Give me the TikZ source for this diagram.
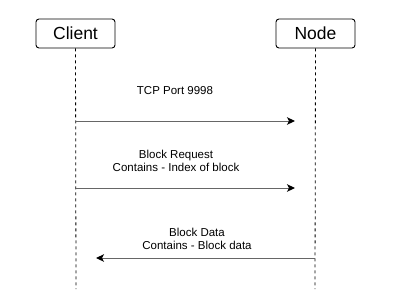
\documentclass[tikz,border=0pt]{standalone}
\usepackage{fontspec}
\setmainfont{Liberation Sans}
\usetikzlibrary{arrows.meta, positioning}

\begin{document}
\begin{tikzpicture}[x=1pt, y=-1pt,
  actor/.style={draw, rounded corners=3pt, line width=0.9pt,
    minimum width=79pt, minimum height=29pt, inner sep=0pt,
    font=\fontsize{17.5}{20}\selectfont},
  lifeline/.style={line width=0.8pt, dash pattern=on 3pt off 3pt},
  msg/.style={line width=1pt, draw=black!60,
    -{Stealth[length=8pt, width=7.5pt, inset=2pt, color=black]}},
  msglabel/.style={align=center, inner sep=0pt,
    font=\fontsize{11.5}{13.5}\selectfont}]

  \useasboundingbox (0,0) rectangle (414,290);

  % the two parties
  \node[actor] (client) at (75.5,33.5) {Client};
  \node[actor] (node) at (315.5,33.5) {Node};

  % lifelines
  \coordinate (client end) at (76,289);
  \coordinate (node end) at (315,289);
  \draw[lifeline] (client.south) -- (client end);
  \draw[lifeline] (node.south) -- (node end);

  % connection
  \coordinate (m1) at (76,121);
  \coordinate (m1 end) at (295,121);
  \draw[msg] (m1) -- (m1 end);
  \node[msglabel] (l1) at (175,91) {TCP Port 9998};

  % request
  \coordinate (m2) at (76,188);
  \coordinate (m2 end) at (295,188);
  \draw[msg] (m2) -- (m2 end);
  \node[msglabel] (l2) at (176,161) {Block Request\\Contains - Index of block};

  % reply
  \coordinate (m3) at (315,258);
  \coordinate (m3 end) at (96,258);
  \draw[msg] (m3) -- (m3 end);
  \node[msglabel] (l3) at (197,239) {Block Data\\Contains - Block data};
\end{tikzpicture}
\end{document}
